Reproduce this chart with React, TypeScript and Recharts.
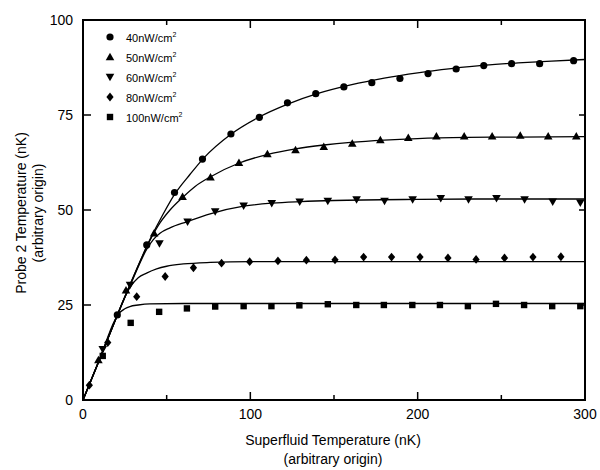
import React from 'react';
import {
  ComposedChart,
  Line,
  Scatter,
  XAxis,
  YAxis,
  usePlotArea,
} from 'recharts';

type Pt = { x: number; y: number };

const points40: Pt[] = [
  { x: 20.5, y: 22.4 }, { x: 38.1, y: 40.8 }, { x: 54.7, y: 54.6 }, { x: 71.4, y: 63.4 },
  { x: 88.4, y: 70 }, { x: 105.4, y: 74.4 }, { x: 122.2, y: 78.2 }, { x: 139.1, y: 80.6 },
  { x: 155.9, y: 82.4 }, { x: 172.6, y: 83.5 }, { x: 189.4, y: 84.6 }, { x: 206.2, y: 85.9 },
  { x: 223, y: 87.1 }, { x: 239.5, y: 88 }, { x: 256.1, y: 88.5 }, { x: 272.9, y: 88.5 },
  { x: 293.2, y: 89.3 },
];
const points50: Pt[] = [
  { x: 9.2, y: 10.5 }, { x: 25.7, y: 28.9 }, { x: 42.5, y: 43.9 }, { x: 59.5, y: 53.5 },
  { x: 76.2, y: 58.6 }, { x: 93.2, y: 62.4 }, { x: 110.2, y: 64.7 }, { x: 127, y: 65.8 },
  { x: 143.9, y: 66.6 }, { x: 160.9, y: 67.5 }, { x: 177.7, y: 68.4 }, { x: 194.4, y: 69 },
  { x: 211.2, y: 69.4 }, { x: 227.8, y: 69.4 }, { x: 244.5, y: 69.4 }, { x: 261.3, y: 69.6 },
  { x: 278, y: 69.4 }, { x: 294.8, y: 69.4 },
];
const points60: Pt[] = [
  { x: 11.8, y: 13.4 }, { x: 28.1, y: 30.3 }, { x: 45.7, y: 41.2 }, { x: 62.5, y: 46.9 },
  { x: 79, y: 49.6 }, { x: 96, y: 51.1 }, { x: 112.8, y: 51.8 }, { x: 129.5, y: 52.2 },
  { x: 146.3, y: 52.4 }, { x: 163.5, y: 52.8 }, { x: 180.2, y: 52.4 }, { x: 197, y: 52.8 },
  { x: 213.8, y: 53.1 }, { x: 230.4, y: 52.8 }, { x: 247.1, y: 53.1 }, { x: 263.9, y: 52.8 },
  { x: 280.7, y: 52.2 }, { x: 297.2, y: 51.9 },
];
const points80: Pt[] = [
  { x: 3.8, y: 3.9 }, { x: 14.8, y: 15.1 }, { x: 32.1, y: 27.2 }, { x: 49.1, y: 32.5 },
  { x: 66, y: 34.8 }, { x: 82.8, y: 36 }, { x: 99.6, y: 36.4 }, { x: 116.5, y: 36.6 },
  { x: 133.5, y: 36.8 }, { x: 150.6, y: 36.9 }, { x: 167.7, y: 37.6 }, { x: 184.4, y: 37.6 },
  { x: 201.4, y: 37.6 }, { x: 218.1, y: 37.4 }, { x: 234.9, y: 37 }, { x: 251.9, y: 37.4 },
  { x: 268.9, y: 37.6 }, { x: 285.6, y: 37.7 },
];
const points100: Pt[] = [
  { x: 11.8, y: 11.6 }, { x: 28.5, y: 20.3 }, { x: 45.5, y: 23.2 }, { x: 62.1, y: 24.1 },
  { x: 79, y: 24.6 }, { x: 96, y: 24.7 }, { x: 112.6, y: 24.7 }, { x: 129.3, y: 24.9 },
  { x: 146.3, y: 25.2 }, { x: 163.3, y: 25 }, { x: 179.8, y: 25 }, { x: 196.8, y: 25 },
  { x: 213.3, y: 25 }, { x: 230, y: 24.7 }, { x: 246.8, y: 25.3 }, { x: 263.6, y: 25 },
  { x: 280.4, y: 24.7 }, { x: 297.2, y: 24.7 },
];

// fitted curves
const fit40: Pt[] = [
  { x: 0, y: 0 }, { x: 10, y: 10.8 }, { x: 20, y: 21.8 }, { x: 30, y: 32.3 }, { x: 40, y: 42.2 },
  { x: 48, y: 49 }, { x: 55, y: 54.3 }, { x: 64, y: 59.4 }, { x: 72, y: 63.6 }, { x: 88, y: 69.8 },
  { x: 105, y: 74.4 }, { x: 122, y: 77.8 }, { x: 140, y: 80.6 }, { x: 160, y: 82.9 },
  { x: 180, y: 84.7 }, { x: 200, y: 86.1 }, { x: 220, y: 87.2 }, { x: 240, y: 88.1 },
  { x: 260, y: 88.7 }, { x: 280, y: 89.2 }, { x: 300, y: 89.6 },
];
const fit50: Pt[] = [
  { x: 0, y: 0 }, { x: 10, y: 10.8 }, { x: 20, y: 21.8 }, { x: 30, y: 32.3 }, { x: 40, y: 42 },
  { x: 46, y: 46.6 }, { x: 52, y: 50 }, { x: 59.5, y: 53.3 }, { x: 67, y: 56.2 }, { x: 76, y: 58.7 },
  { x: 93, y: 62.3 }, { x: 110, y: 64.6 }, { x: 127, y: 66.1 }, { x: 144, y: 67.1 },
  { x: 160, y: 67.8 }, { x: 180, y: 68.4 }, { x: 200, y: 68.8 }, { x: 230, y: 69.1 },
  { x: 260, y: 69.2 }, { x: 300, y: 69.3 },
];
const fit60: Pt[] = [
  { x: 0, y: 0 }, { x: 10, y: 10.8 }, { x: 20, y: 21.8 }, { x: 30, y: 32 }, { x: 38, y: 39.6 },
  { x: 42, y: 42.2 }, { x: 46, y: 43.9 }, { x: 52, y: 45.3 }, { x: 62, y: 46.9 }, { x: 76, y: 49 },
  { x: 96, y: 51 }, { x: 113, y: 51.8 }, { x: 130, y: 52.2 }, { x: 150, y: 52.5 },
  { x: 200, y: 52.8 }, { x: 250, y: 52.9 }, { x: 300, y: 52.9 },
];
const fit80: Pt[] = [
  { x: 0, y: 0 }, { x: 10, y: 10.8 }, { x: 20, y: 21.8 }, { x: 26, y: 28 }, { x: 29, y: 30.2 },
  { x: 33, y: 32.2 }, { x: 38, y: 33.4 }, { x: 44, y: 34.5 }, { x: 50, y: 35.2 }, { x: 60, y: 35.8 },
  { x: 76, y: 36.2 }, { x: 100, y: 36.4 }, { x: 150, y: 36.4 }, { x: 300, y: 36.4 },
];
const fit100: Pt[] = [
  { x: 0, y: 0 }, { x: 10, y: 10.8 }, { x: 19, y: 21 }, { x: 21.5, y: 22.8 }, { x: 25, y: 24 },
  { x: 28, y: 24.6 }, { x: 33, y: 25 }, { x: 40, y: 25.3 }, { x: 60, y: 25.4 }, { x: 300, y: 25.4 },
];

const legendLabels = ['40nW/cm', '50nW/cm', '60nW/cm', '80nW/cm', '100nW/cm'];
const markerKinds = ['circle', 'up', 'down', 'diamond', 'square'];

const xTicks = [0, 50, 100, 150, 200, 250, 300];
const yTicks = [0, 25, 50, 75, 100];

const FONT = '"Liberation Sans", Arial, Helvetica, sans-serif';

function Marker({ kind, cx, cy }: { kind: string; cx: number; cy: number }) {
  if (kind === 'circle') return <circle cx={cx} cy={cy} r={3.6} fill="#000" />;
  if (kind === 'up')
    return <polygon points={`${cx},${cy - 4.3} ${cx + 4.3},${cy + 3.2} ${cx - 4.3},${cy + 3.2}`} fill="#000" />;
  if (kind === 'down')
    return <polygon points={`${cx},${cy + 4.3} ${cx + 4.3},${cy - 3.2} ${cx - 4.3},${cy - 3.2}`} fill="#000" />;
  if (kind === 'diamond')
    return <polygon points={`${cx},${cy - 4.4} ${cx + 3.6},${cy} ${cx},${cy + 4.4} ${cx - 3.6},${cy}`} fill="#000" />;
  return <rect x={cx - 3.2} y={cy - 3.2} width={6.4} height={6.4} fill="#000" />;
}

const shapeFor = (kind: string) => (p: any) => <Marker kind={kind} cx={p.cx} cy={p.cy} />;

// box around the plot area
function Frame() {
  const a = usePlotArea();
  if (!a) return null;
  return <rect x={a.x} y={a.y} width={a.width} height={a.height} fill="none" stroke="#000" strokeWidth={2} />;
}

const BottomTick = (p: any) => {
  const major = p.payload.value % 100 === 0;
  return (
    <g>
      <line x1={p.x} x2={p.x} y1={p.y} y2={p.y - (major ? 8 : 5)} stroke="#000" strokeWidth={1.5} />
      {major && (
        <text x={p.x} y={p.y + 19} textAnchor="middle" fontSize={14} fontFamily={FONT} fill="#000">
          {p.payload.value}
        </text>
      )}
    </g>
  );
};

const TopTick = (p: any) => {
  const major = p.payload.value % 100 === 0;
  return <line x1={p.x} x2={p.x} y1={p.y} y2={p.y + (major ? 8 : 5)} stroke="#000" strokeWidth={1.5} />;
};

const LeftTick = (p: any) => (
  <g>
    <line x1={p.x} x2={p.x + 8} y1={p.y} y2={p.y} stroke="#000" strokeWidth={1.5} />
    <text x={p.x - 10} y={p.y + 5} textAnchor="end" fontSize={14} fontFamily={FONT} fill="#000">
      {p.payload.value}
    </text>
  </g>
);

const RightTick = (p: any) => (
  <line x1={p.x} x2={p.x - 6} y1={p.y} y2={p.y} stroke="#000" strokeWidth={1.5} />
);

const axisCommon = {
  type: 'number' as const,
  interval: 0 as const,
  tickSize: 0,
  tickMargin: 0,
  tickLine: false,
  allowDataOverflow: true,
  axisLine: false,
};

export default function App() {
  const fits = [fit40, fit50, fit60, fit80, fit100];
  const pts = [points40, points50, points60, points80, points100];

  return (
    <div style={{ position: 'absolute', left: 0, top: 0, width: 600, height: 470, background: '#fff', fontFamily: FONT, overflow: 'hidden' }}>
      <ComposedChart width={600} height={470} margin={{ top: 10, right: 5, bottom: 40, left: 43 }}>
        <XAxis {...axisCommon} dataKey="x" domain={[0, 300]} ticks={xTicks} height={30} tick={BottomTick} />
        <XAxis
          {...axisCommon}
          xAxisId="top"
          orientation="top"
          dataKey="x"
          domain={[0, 300]}
          ticks={xTicks}
          height={10}
          tick={TopTick}
        />
        <YAxis {...axisCommon} dataKey="y" domain={[0, 100]} ticks={yTicks} width={40} tick={LeftTick} />
        <YAxis
          {...axisCommon}
          yAxisId="right"
          orientation="right"
          dataKey="y"
          domain={[0, 100]}
          ticks={yTicks}
          width={10}
          tick={RightTick}
        />
        <Frame />
        {fits.map((f, i) => (
          <Line
            key={'fit' + i}
            data={f}
            dataKey="y"
            type="monotone"
            stroke="#000"
            strokeWidth={1.3}
            dot={false}
            activeDot={false}
            isAnimationActive={false}
          />
        ))}
        {pts.map((p, i) => (
          <Scatter
            key={'pts' + i}
            data={p}
            dataKey="y"
            shape={shapeFor(markerKinds[i])}
            isAnimationActive={false}
          />
        ))}
      </ComposedChart>
      <div style={{ position: 'absolute', left: 104, top: 27, fontSize: 11 }}>
        {legendLabels.map((label, i) => (
          <div key={label} style={{ display: 'flex', alignItems: 'center', height: 20 }}>
            <svg width={12} height={12} style={{ marginRight: 10 }}>
              <Marker kind={markerKinds[i]} cx={6} cy={6} />
            </svg>
            <span>
              {label}
              <sup style={{ fontSize: 7 }}>2</sup>
            </span>
          </div>
        ))}
      </div>
      <div style={{ position: 'absolute', left: 133, width: 400, top: 431, textAlign: 'center', fontSize: 14, lineHeight: '19px' }}>
        Superfluid Temperature (nK)
        <br />
        (arbitrary origin)
      </div>
      <div
        style={{
          position: 'absolute',
          left: 31 - 150,
          top: 213 - 18,
          width: 300,
          height: 36,
          transform: 'rotate(-90deg)',
          textAlign: 'center',
          fontSize: 14,
          lineHeight: '17px',
        }}
      >
        Probe 2 Temperature (nK)
        <br />
        (arbitrary origin)
      </div>
    </div>
  );
}
